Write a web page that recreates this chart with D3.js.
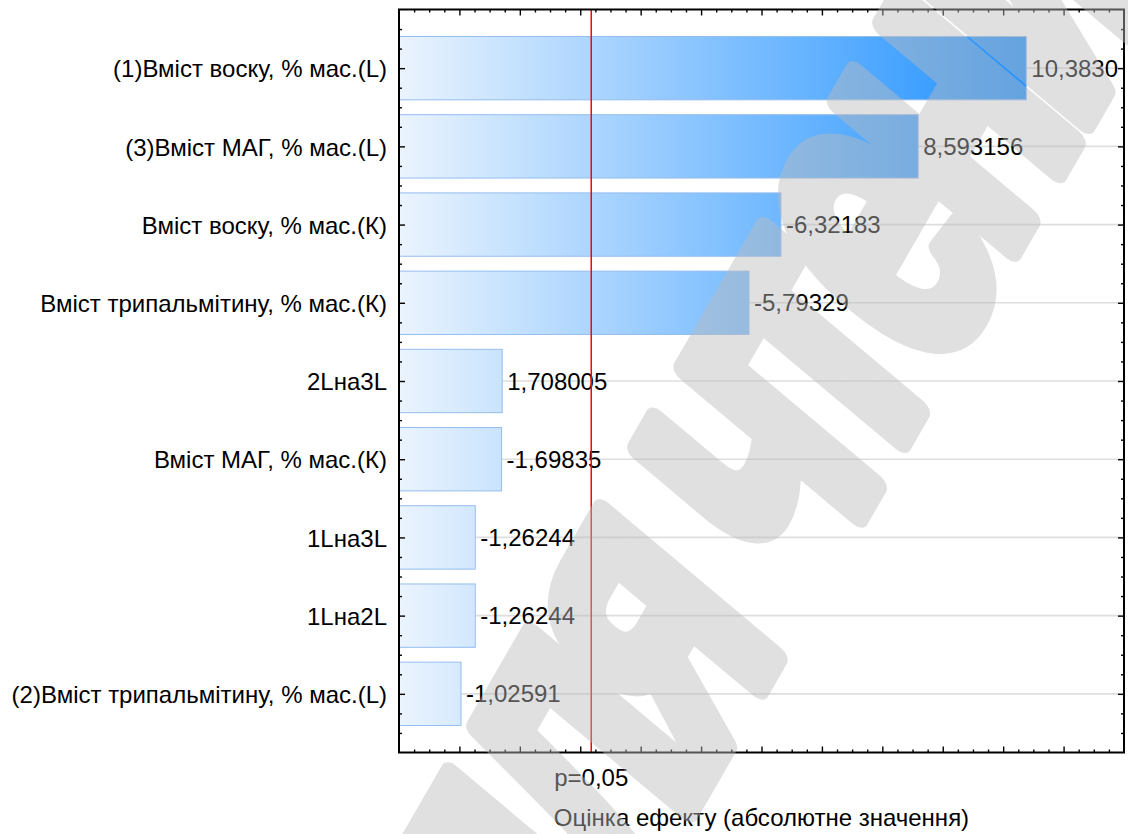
<!DOCTYPE html>
<html>
<head>
<meta charset="utf-8">
<script src="https://cdn.jsdelivr.net/npm/d3@7/dist/d3.min.js"></script>
<style>
  html, body { margin: 0; padding: 0; background: #fff; }
  svg { display: block; }
  text { font-family: "Liberation Sans", Arial, sans-serif; }
</style>
</head>
<body>
<svg id="chart" width="1128" height="834"></svg>
<script>
// Pareto chart of standardized effects
const factorLabels = [
  "(1)Вміст воску, % мас.(L)",
  "(3)Вміст МАГ, % мас.(L)",
  "Вміст воску, % мас.(К)",
  "Вміст трипальмітину, % мас.(К)",
  "2Lна3L",
  "Вміст МАГ, % мас.(К)",
  "1Lна3L",
  "1Lна2L",
  "(2)Вміст трипальмітину, % мас.(L)"
];
const effectText = ["10,3830", "8,593156", "-6,32183", "-5,79329", "1,708005", "-1,69835", "-1,26244", "-1,26244", "-1,02591"];
const effectValues = effectText.map(s => +s.replace(",", "."));
const criticalValue = 3.182;       // t(0.975) reference line
const criticalLabel = "p=0,05";
const xAxisTitle = "Оцінка ефекту (абсолютне значення)";
const xDomain = [0, 12];
const watermarkText = "для чтения";

const svg = d3.select("#chart");
const plotL = 399, plotR = 1124, plotT = 9.5, plotB = 752.5;

const x = d3.scaleLinear().domain(xDomain).range([plotL, plotR]);
const y = d3.scaleLinear().domain([-0.75, factorLabels.length - 0.25]).range([plotT, plotB]);
const barHalf = 0.405;

// gradient fill running from zero to the largest effect
const defs = svg.append("defs");
const grad = defs.append("linearGradient")
  .attr("id", "barFill")
  .attr("gradientUnits", "userSpaceOnUse")
  .attr("x1", x(0)).attr("x2", x(d3.max(effectValues, Math.abs)))
  .attr("y1", 0).attr("y2", 0);
grad.append("stop").attr("offset", 0).attr("stop-color", "#ebf4fe");
grad.append("stop").attr("offset", 1).attr("stop-color", "#1e90ff");

// horizontal grid at each factor
svg.append("g").selectAll("line")
  .data(factorLabels)
  .join("line")
  .attr("x1", plotL).attr("x2", plotR)
  .attr("y1", (d, i) => y(i)).attr("y2", (d, i) => y(i))
  .attr("stroke", "#dedede").attr("stroke-width", 1.6);

// bars
svg.append("g").selectAll("rect")
  .data(effectValues)
  .join("rect")
  .attr("x", x(0))
  .attr("y", (d, i) => y(i - barHalf))
  .attr("width", d => x(Math.abs(d)) - x(0))
  .attr("height", y(barHalf) - y(-barHalf))
  .attr("fill", "url(#barFill)")
  .attr("stroke", "#95bdf0")
  .attr("stroke-width", 1);

// value labels
svg.append("g").selectAll("text")
  .data(effectValues)
  .join("text")
  .attr("x", d => x(Math.abs(d)) + 5)
  .attr("y", (d, i) => y(i))
  .attr("dy", "0.36em")
  .attr("font-size", 24)
  .attr("fill", "#000")
  .text((d, i) => effectText[i]);

// critical value line
svg.append("line")
  .attr("x1", x(criticalValue)).attr("x2", x(criticalValue))
  .attr("y1", plotT).attr("y2", plotB)
  .attr("stroke", "#ff0000").attr("stroke-width", 1.5);

// axes with inward ticks on all four sides
const majorX = d3.range(1, 12);
const minorX = d3.range(0.25, 12, 0.25).filter(v => Math.abs(v - Math.round(v)) > 1e-6);
const majorY = d3.range(0, factorLabels.length);
const minorY = d3.range(-0.5, factorLabels.length - 0.25, 0.25).filter(v => Math.abs(v - Math.round(v)) > 1e-6);

function styleAxis(g) {
  g.select(".domain").remove();
  g.selectAll(".tick line").attr("stroke", "#000").attr("stroke-width", 1.4);
}

svg.append("g").attr("transform", `translate(0,${plotB})`)
  .call(d3.axisBottom(x).tickValues(majorX).tickSize(-6).tickFormat(""))
  .call(styleAxis);
svg.append("g").attr("transform", `translate(0,${plotB})`)
  .call(d3.axisBottom(x).tickValues(minorX).tickSize(-3).tickFormat(""))
  .call(styleAxis);
svg.append("g").attr("transform", `translate(0,${plotT})`)
  .call(d3.axisTop(x).tickValues(majorX).tickSize(-6).tickFormat(""))
  .call(styleAxis);
svg.append("g").attr("transform", `translate(0,${plotT})`)
  .call(d3.axisTop(x).tickValues(minorX).tickSize(-3).tickFormat(""))
  .call(styleAxis);

const yAxis = svg.append("g").attr("transform", `translate(${plotL},0)`)
  .call(d3.axisLeft(y).tickValues(majorY).tickSize(-6).tickPadding(12)
    .tickFormat(i => factorLabels[i]))
  .call(styleAxis);
yAxis.selectAll(".tick text")
  .attr("font-size", 24).attr("fill", "#000")
  .attr("font-family", "Liberation Sans, Arial, sans-serif")
  .attr("dy", "0.36em");
svg.append("g").attr("transform", `translate(${plotL},0)`)
  .call(d3.axisLeft(y).tickValues(minorY).tickSize(-3).tickFormat(""))
  .call(styleAxis);
svg.append("g").attr("transform", `translate(${plotR},0)`)
  .call(d3.axisRight(y).tickValues(majorY).tickSize(-6).tickFormat(""))
  .call(styleAxis);
svg.append("g").attr("transform", `translate(${plotR},0)`)
  .call(d3.axisRight(y).tickValues(minorY).tickSize(-3).tickFormat(""))
  .call(styleAxis);

// plot frame
svg.append("rect")
  .attr("x", plotL).attr("y", plotT)
  .attr("width", plotR - plotL).attr("height", plotB - plotT)
  .attr("fill", "none").attr("stroke", "#000").attr("stroke-width", 2);

// critical value caption and axis title
svg.append("text")
  .attr("x", x(criticalValue)).attr("y", 786)
  .attr("text-anchor", "middle").attr("font-size", 24).attr("fill", "#000")
  .text(criticalLabel);
svg.append("text")
  .attr("x", (plotL + plotR) / 2).attr("y", 826)
  .attr("text-anchor", "middle").attr("font-size", 24).attr("fill", "#000")
  .text(xAxisTitle);

// translucent diagonal watermark laid over the page
const wmSize = 420;
const wmLayer = svg.append("g").attr("opacity", 0.45);
const wm = wmLayer.append("text")
  .attr("font-size", wmSize)
  .attr("font-weight", "bold")
  .attr("letter-spacing", -30)
  .attr("fill", "#bbbbbb")
  .attr("stroke", "#bbbbbb")
  .attr("stroke-width", 26)
  .attr("stroke-linejoin", "round")
  .text(watermarkText);
// anchor the slanted word on the centre of its seventh letter
const ext = wm.node().getExtentOfChar(6);
const cx = ext.x + ext.width / 2, cy = -0.264 * wmSize;
wm.attr("transform",
  `translate(881,253) rotate(-60) skewX(-10) scale(0.66,1) translate(${-cx},${-cy})`);
</script>
</body>
</html>
